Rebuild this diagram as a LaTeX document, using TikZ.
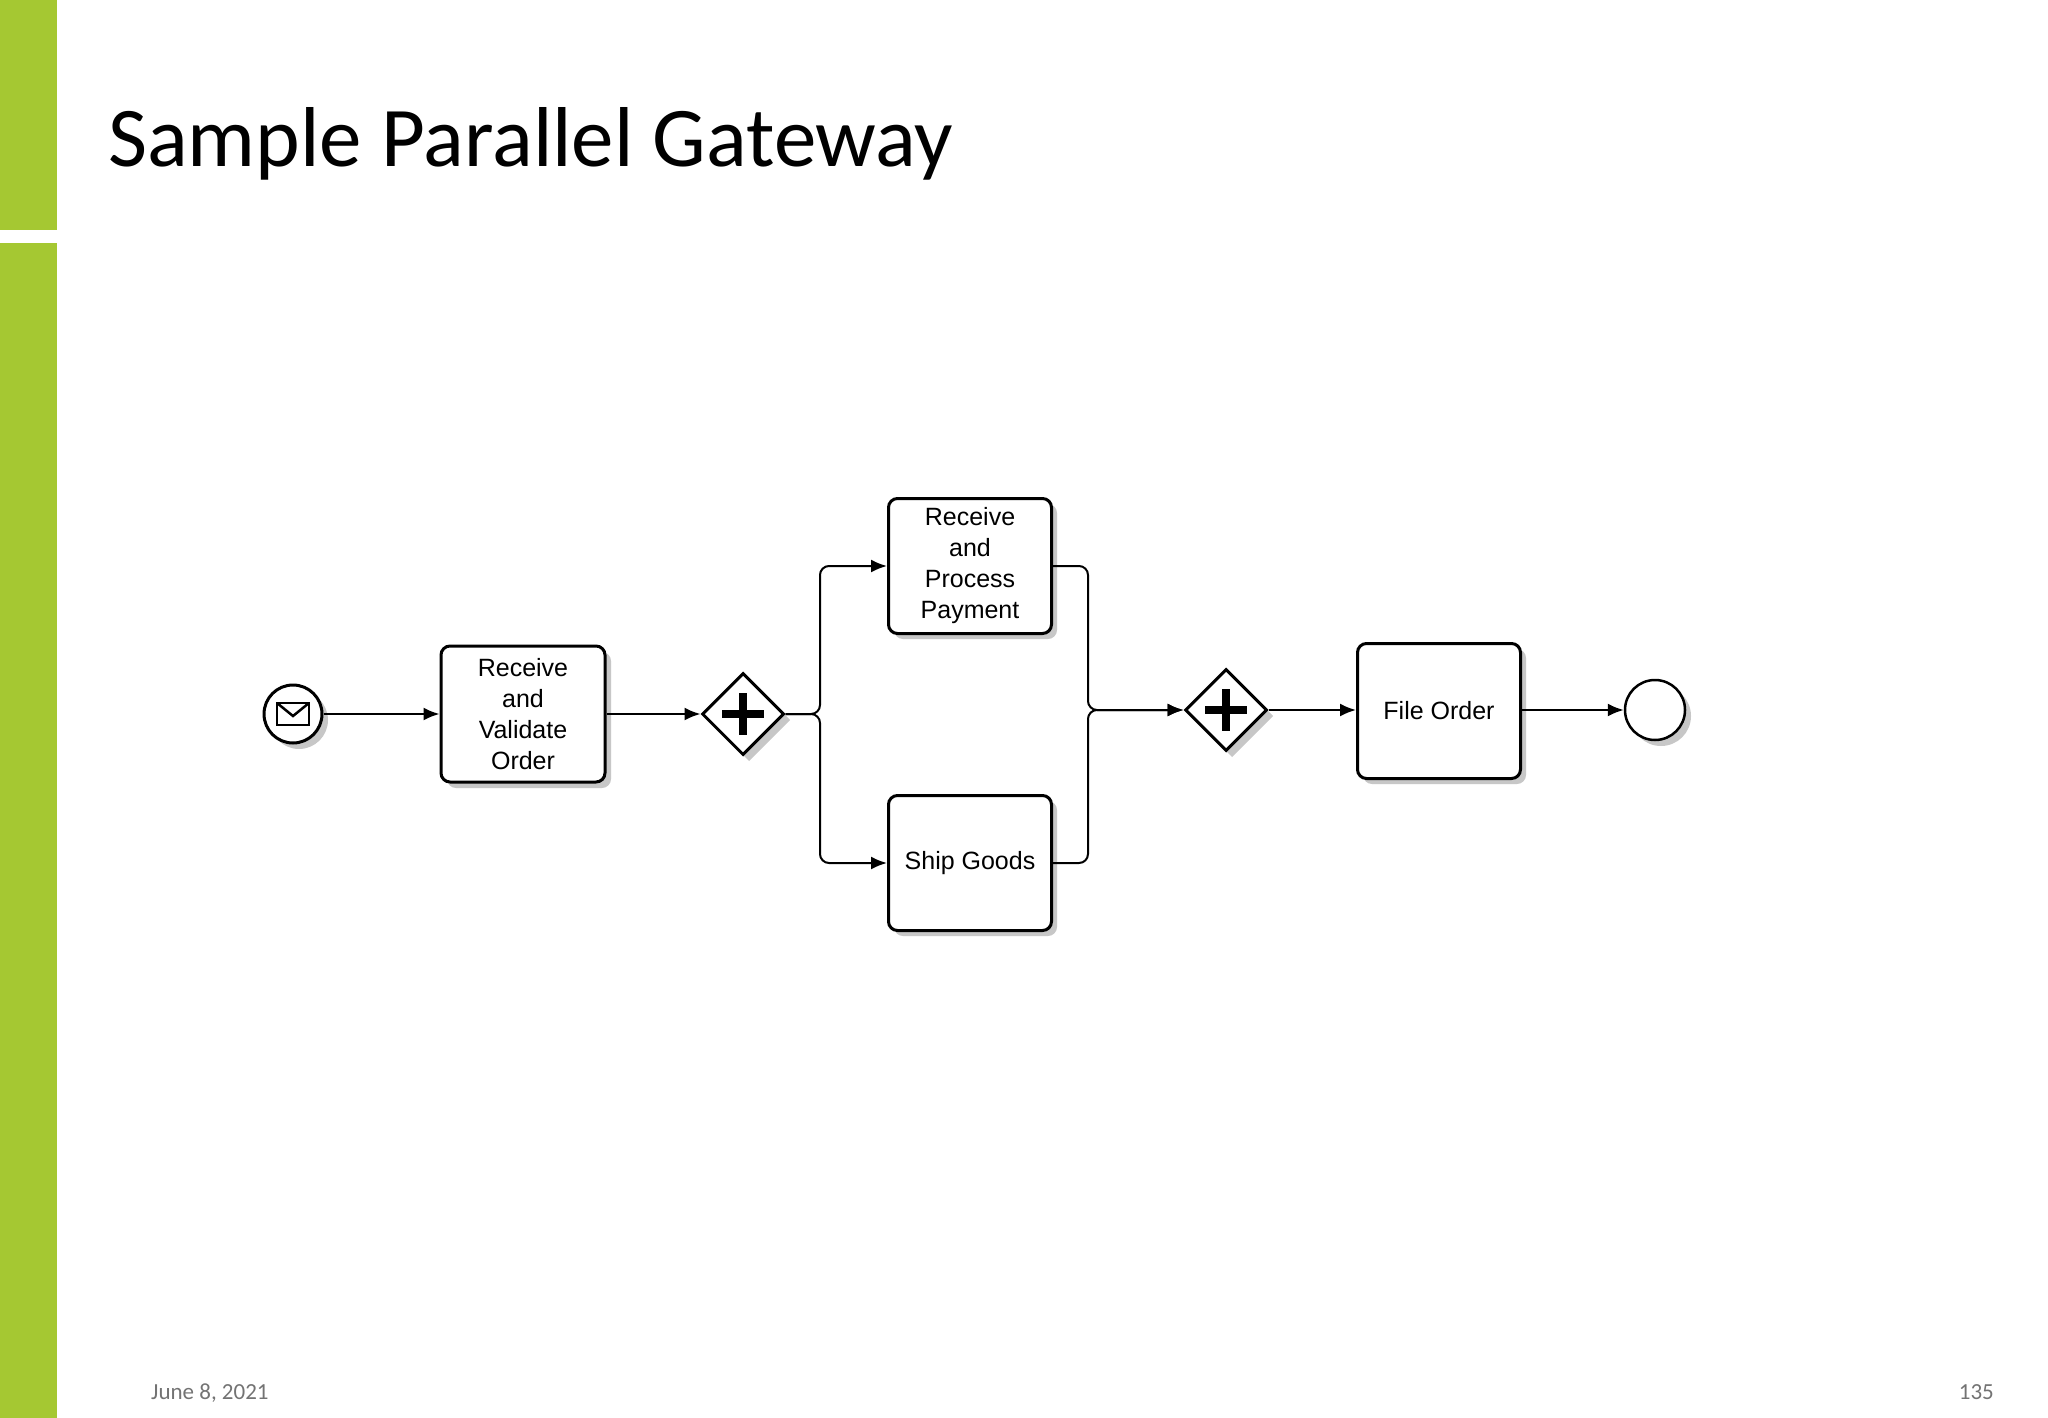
\documentclass[tikz,border=0pt]{standalone}
\usepackage{fontspec}
\setmainfont{Liberation Sans}
\newfontfamily\titlefont{Carlito}
\usetikzlibrary{shapes.geometric,arrows.meta}
\definecolor{barg}{HTML}{A5C832}
\tikzset{
  task/.style={draw=black,line width=3pt,rounded corners=9pt,fill=white,minimum width=164pt,minimum height=136pt,inner sep=0pt,align=center,font=\fontsize{25pt}{31pt}\selectfont},
  gw/.style={draw=black,line width=3pt,diamond,fill=white,minimum width=82pt,minimum height=82pt,inner sep=0pt},
  ev/.style={draw=black,circle,fill=white,minimum size=58pt,inner sep=0pt},
  flow/.style={line width=2pt,-{Latex[length=16pt,width=13pt]},rounded corners=9pt},
  shad/.style={fill=black!22,draw=none}
}
\begin{document}
\begin{tikzpicture}[x=1pt,y=-1pt]
\useasboundingbox (0,0) rectangle (2048,1418);
\fill[white] (0,0) rectangle (2048,1418);
\fill[barg] (0,0) rectangle (57,230);
\fill[barg] (0,243) rectangle (57,1418);
\node[anchor=base west,inner sep=0pt,font=\titlefont\fontsize{85pt}{100pt}\selectfont] (title) at (108,167) {Sample Parallel Gateway};
\node[anchor=base west,inner sep=0pt,text=black!55,font=\titlefont\fontsize{23pt}{27pt}\selectfont] (date) at (151,1399) {June 8, 2021};
\node[anchor=base east,inner sep=0pt,text=black!55,font=\titlefont\fontsize{23pt}{27pt}\selectfont] (pg) at (1994,1399) {135};
% shadows
\fill[shad] (299,720) circle (29);
\fill[shad,rounded corners=9pt] (447,652) rectangle (611,788);
\fill[shad] (749,679) -- (790,720) -- (749,761) -- (708,720) -- cycle;
\fill[shad,rounded corners=9pt] (894,504) rectangle (1057,639);
\fill[shad,rounded corners=9pt] (894,801) rectangle (1057,936);
\fill[shad] (1232,675) -- (1273,716) -- (1232,757) -- (1191,716) -- cycle;
\fill[shad,rounded corners=9pt] (1363,649) rectangle (1526,784);
\fill[shad] (1661,716) circle (30);
% nodes
\node[ev,line width=3pt] (start) at (293,714) {};
\draw[line width=2.5pt] (277,703) rectangle (309,725);
\draw[line width=2.5pt] (277,703) -- (293,716) -- (309,703);
\node[task] (t1) at (523,714) {Receive\\and\\Validate\\Order};
\node[gw] (g1) at (743,714) {};
\draw[line width=8pt] (722,714) -- (764,714) (743,693) -- (743,735);
\node[task,minimum height=135pt,minimum width=163pt] (t2) at (970,566) {Receive\\and\\Process\\Payment};
\node[task,minimum height=135pt,minimum width=163pt] (t3) at (970,863) {Ship Goods};
\node[gw] (g2) at (1226,710) {};
\draw[line width=8pt] (1205,710) -- (1247,710) (1226,689) -- (1226,731);
\node[task,minimum height=135pt,minimum width=163pt] (t4) at (1439,711) {File Order};
\node[ev,line width=2.5pt,minimum size=60pt] (end) at (1655,710) {};
% flows
\coordinate (sp) at (820,714);
\coordinate (mg) at (1088,710);
\draw[flow] (start) -- (t1);
\draw[flow] (t1.east |- g1) -- (g1.west);
\draw[flow] (g1.east) -- (sp) |- (t2.west);
\draw[flow] (g1.east) -- (sp) |- (t3.west);
\draw[flow] (t2.east) -| (mg) -- (g2.west);
\draw[flow] (t3.east) -| (mg) -- (g2.west);
\draw[flow] (g2.east) -- (t4.west |- g2);
\draw[flow] (t4.east |- end) -- (end.west);
\end{tikzpicture}
\end{document}
